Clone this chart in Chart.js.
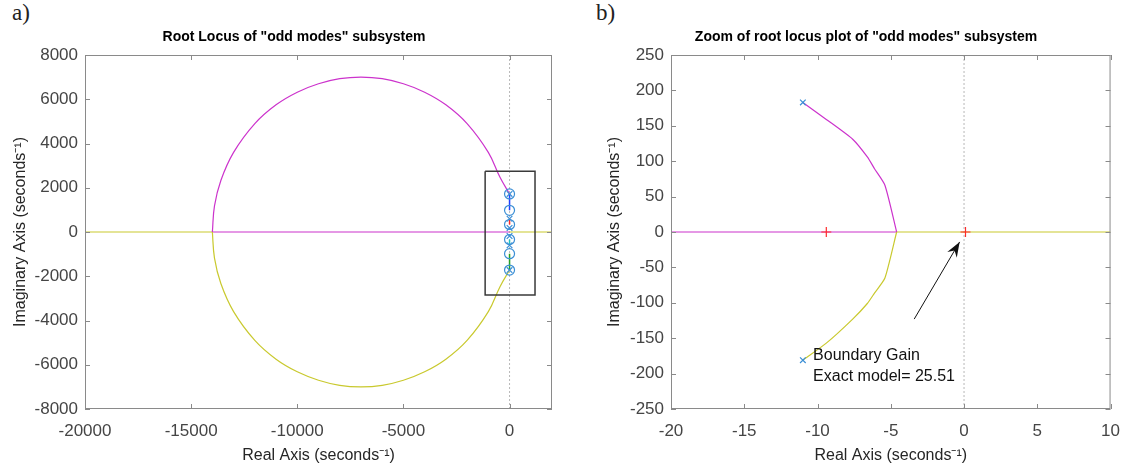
<!DOCTYPE html>
<html>
<head>
<meta charset="utf-8">
<script src="https://cdn.jsdelivr.net/npm/chart.js@4.4.1/dist/chart.umd.min.js"></script>
<style>
body { margin:0; background:#fff; width:1132px; height:466px; position:relative; overflow:hidden; }
canvas { position:absolute; top:0; }
#cA { left:0; }
#cB { left:566px; }
.tag { position:absolute; top:0px; font-family:"Liberation Serif","DejaVu Serif",serif; font-size:23px; color:#222; }
</style>
</head>
<body>
<div class="tag" style="left:12px">a)</div>
<div class="tag" style="left:596px">b)</div>
<canvas id="cA" width="566" height="466"></canvas>
<canvas id="cB" width="566" height="466"></canvas>
<script>
// ---- panel a) full root locus ----
var realTicksA = [-20000, -15000, -10000, -5000, 0];
var imagTicksA = [-8000, -6000, -4000, -2000, 0, 2000, 4000, 6000, 8000];
var upperArcX = [0, -450, -1000, -2000, -3000, -4000, -5000, -6000, -7000, -8000, -9000, -10000, -11000, -12000, -13000, -13600, -13900, -14000];
var upperArcY = [1720, 2470, 3600, 4900, 5750, 6320, 6700, 6930, 7000, 6930, 6700, 6320, 5750, 4900, 3600, 2330, 1180, 0];
var lowerArcX = [0, -450, -1000, -2000, -3000, -4000, -5000, -6000, -7000, -8000, -9000, -10000, -11000, -12000, -13000, -13600, -13900, -14000];
var lowerArcY = [-1720, -2470, -3600, -4900, -5750, -6320, -6700, -6930, -7000, -6930, -6700, -6320, -5750, -4900, -3600, -2330, -1180, 0];
var realMagentaA = [-14000, 0];
var realYellowLeftA = [-20000, -14000];
var realYellowRightA = [0, 2000];
var zerosImagA = [1720, 980, 340, -340, -980, -1720];
var polesImagA = [1720, 600, 183, -183, -600, -1720];
var blueSegA = [1720, 980];
var redSegA = [600, 340];
var cyanSegA = [-340, -600];
var greenSegA = [-980, -1720];
var zoomBoxX = [-1150, 1200, 1200, -1150, -1150];
var zoomBoxY = [2750, 2750, -2850, -2850, 2750];

// ---- panel b) zoom ----
var realTicksB = [-20, -15, -10, -5, 0, 5, 10];
var imagTicksB = [-250, -200, -150, -100, -50, 0, 50, 100, 150, 200, 250];
var upperBranchX = [-11, -9.4, -7.6, -6.6, -6.1, -5.4, -4.6];
var upperBranchY = [183, 159, 131, 106, 89, 66, 0];
var lowerBranchX = [-11, -9.4, -7.6, -6.6, -6.1, -5.4, -4.6];
var lowerBranchY = [-181, -157, -123, -101, -86, -65, 0];
var realMagentaB = [-20, -4.6];
var realYellowB = [-4.6, 10];
var polesX = [-11, -11];
var polesY = [183, -181];
var gainX = [-9.4, 0.1];
var gainY = [0, 0];
var arrowX = [-3.4, -0.3];
var arrowY = [-123, -14];
var noteLines = ['Boundary Gain', 'Exact model= 25.51'];
var noteAt = [-10.3, -174];

var FONT = '"Liberation Sans", Arial, sans-serif';
Chart.defaults.font.family = FONT;

var MAG = '#cc33cc', YEL = '#c9c92e', MARK = '#3b8fd6', DOT = '#b8b8b8';

function pts(xs, ys) {
    return xs.map(function (x, i) { return { x: x, y: ys[i] }; });
}
function onAxis(ys) {
    return ys.map(function (y) { return { x: 0, y: y }; });
}
function line(data, color, w, extra) {
    var d = { data: data, showLine: true, borderColor: color, borderWidth: w || 1.2, pointRadius: 0, fill: false, tension: 0 };
    for (var k in extra) d[k] = extra[k];
    return d;
}
function marks(data, style, color, r) {
    return { data: data, showLine: false, pointStyle: style, pointRadius: r, borderColor: color, backgroundColor: 'rgba(0,0,0,0)', pointBorderWidth: 1.2 };
}

// box, inward ticks, title, annotation
var matlabAxes = {
    id: 'matlabAxes',
    afterDatasetsDraw: function (chart, args, opts) {
        var ctx = chart.ctx, a = chart.chartArea;
        var sx = chart.scales.x, sy = chart.scales.y;
        ctx.save();
        ctx.strokeStyle = '#8a8a8a';
        ctx.lineWidth = 1;
        ctx.strokeRect(a.left + 0.5, a.top + 0.5, a.right - a.left - 1, a.bottom - a.top - 1);
        ctx.beginPath();
        sx.ticks.forEach(function (t) {
            var px = Math.round(sx.getPixelForValue(t.value)) + 0.5;
            ctx.moveTo(px, a.bottom); ctx.lineTo(px, a.bottom - 5);
            ctx.moveTo(px, a.top); ctx.lineTo(px, a.top + 5);
        });
        sy.ticks.forEach(function (t) {
            var py = Math.round(sy.getPixelForValue(t.value)) + 0.5;
            ctx.moveTo(a.left, py); ctx.lineTo(a.left + 5, py);
            ctx.moveTo(a.right, py); ctx.lineTo(a.right - 5, py);
        });
        ctx.stroke();

        ctx.fillStyle = '#000';
        ctx.font = 'bold 14px ' + FONT;
        ctx.textAlign = 'center';
        ctx.textBaseline = 'middle';
        ctx.fillText(opts.title, opts.titleX, 37);

        if (opts.arrow) {
            var x1 = sx.getPixelForValue(opts.arrow[0][0]), y1 = sy.getPixelForValue(opts.arrow[1][0]);
            var x2 = sx.getPixelForValue(opts.arrow[0][1]), y2 = sy.getPixelForValue(opts.arrow[1][1]);
            var ang = Math.atan2(y2 - y1, x2 - x1);
            ctx.fillStyle = '#111';
            ctx.beginPath();
            ctx.moveTo(x2, y2);
            ctx.lineTo(x2 - 15 * Math.cos(ang) + 5.5 * Math.sin(ang), y2 - 15 * Math.sin(ang) - 5.5 * Math.cos(ang));
            ctx.lineTo(x2 - 10 * Math.cos(ang), y2 - 10 * Math.sin(ang));
            ctx.lineTo(x2 - 15 * Math.cos(ang) - 5.5 * Math.sin(ang), y2 - 15 * Math.sin(ang) + 5.5 * Math.cos(ang));
            ctx.closePath();
            ctx.fill();
        }
        if (opts.note) {
            var nx = sx.getPixelForValue(opts.noteAt[0]), ny = sy.getPixelForValue(opts.noteAt[1]);
            ctx.fillStyle = '#111';
            ctx.font = '16px ' + FONT;
            ctx.textAlign = 'left';
            opts.note.forEach(function (s, i) { ctx.fillText(s, nx, ny + i * 21); });
        }
        ctx.restore();
    }
};

function axis(min, max, ticks, title, horiz, size, titlePad) {
    return {
        type: 'linear', min: min, max: max,
        afterBuildTicks: function (s) { s.ticks = ticks.map(function (v) { return { value: v }; }); },
        afterFit: function (s) { if (horiz) s.height = size; else s.width = size; },
        grid: { display: false, drawTicks: false },
        border: { display: false },
        ticks: {
            color: '#454545', font: { size: 17 }, padding: horiz ? 12 : 7,
            maxRotation: 0, autoSkip: false,
            callback: function (v) { return String(v); }
        },
        title: { display: true, text: title, color: '#262626', font: { size: 16 }, padding: titlePad }
    };
}

function makeChart(id, datasets, sc, padRight, pluginOpts) {
    return new Chart(document.getElementById(id), {
        type: 'scatter',
        data: { datasets: datasets },
        options: {
            responsive: false, animation: false,
            layout: { padding: { left: 0, right: padRight, top: 55, bottom: 0 } },
            plugins: { legend: { display: false }, tooltip: { enabled: false }, matlabAxes: pluginOpts },
            scales: sc
        },
        plugins: [matlabAxes]
    });
}

var realTitle = 'Real Axis (seconds\u207B\u00B9)';
var imagTitle = 'Imaginary Axis (seconds\u207B\u00B9)';

makeChart('cA', [
    marks(onAxis(zerosImagA), 'circle', MARK, 5),
    marks(onAxis(polesImagA), 'crossRot', MARK, 4),
    line(onAxis(blueSegA), '#1f3fff', 1.5),
    line(onAxis(redSegA), '#ff2a2a', 1.5),
    line(onAxis(cyanSegA), '#22c0c0', 1.5),
    line(onAxis(greenSegA), '#22a022', 1.5),
    line(pts(zoomBoxX, zoomBoxY), '#3a3a3a', 1.5),
    line(pts(upperArcX, upperArcY), MAG, 1.2, { tension: 0.4 }),
    line(pts(lowerArcX, lowerArcY), YEL, 1.2, { tension: 0.4 }),
    line(pts(realMagentaA, [0, 0]), MAG, 1.2),
    line(pts(realYellowLeftA, [0, 0]), YEL, 1.2),
    line(pts(realYellowRightA, [0, 0]), YEL, 1.2),
    line(pts([0, 0], [-8000, 8000]), DOT, 1, { borderDash: [2, 2] })
], {
    x: axis(-20000, 2000, realTicksA, realTitle, true, 57, { top: 0, bottom: 1 }),
    y: axis(-8000, 8000, imagTicksA, imagTitle, false, 85, { top: 11, bottom: 0 })
}, 14, { title: 'Root Locus of "odd modes" subsystem', titleX: 294 });

makeChart('cB', [
    marks(pts(polesX, polesY), 'crossRot', MARK, 4),
    marks(pts(gainX, gainY), 'cross', '#ff2a2a', 5),
    line(pts(arrowX, arrowY), '#111', 1),
    line(pts(upperBranchX, upperBranchY), MAG, 1.2, { tension: 0.2 }),
    line(pts(lowerBranchX, lowerBranchY), YEL, 1.2, { tension: 0.2 }),
    line(pts(realMagentaB, [0, 0]), MAG, 1.2),
    line(pts(realYellowB, [0, 0]), YEL, 1.2),
    line(pts([0, 0], [-250, 250]), DOT, 1, { borderDash: [2, 2] })
], {
    x: axis(-20, 10, realTicksB, realTitle, true, 57, { top: 0, bottom: 1 }),
    y: axis(-250, 250, imagTicksB, imagTitle, false, 105, { top: 39, bottom: 0 })
}, 11, {
    title: 'Zoom of root locus plot of "odd modes" subsystem', titleX: 300,
    arrow: [arrowX, arrowY], note: noteLines, noteAt: noteAt
});
</script>
</body>
</html>
